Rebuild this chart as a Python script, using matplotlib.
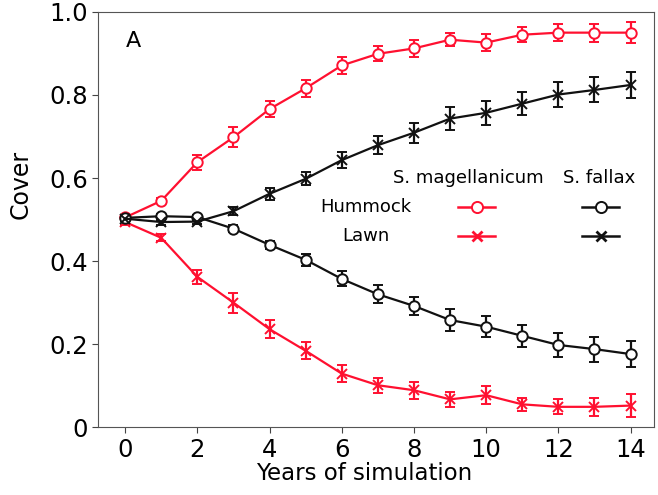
import matplotlib
matplotlib.use("Agg")
import matplotlib.pyplot as plt
import numpy as np

years = np.arange(15)

# S. magellanicum
mag_hummock = [0.505, 0.545, 0.638, 0.698, 0.766, 0.816, 0.871, 0.899, 0.912, 0.933,
               0.926, 0.945, 0.950, 0.950, 0.950]
mag_hummock_err = [0.006, 0.006, 0.018, 0.024, 0.02, 0.02, 0.02, 0.018, 0.02, 0.016,
                   0.021, 0.018, 0.02, 0.022, 0.026]
mag_lawn = [0.494, 0.456, 0.362, 0.300, 0.236, 0.184, 0.129, 0.101, 0.089, 0.067,
            0.077, 0.055, 0.049, 0.049, 0.052]
mag_lawn_err = [0.006, 0.008, 0.017, 0.024, 0.021, 0.02, 0.021, 0.018, 0.02, 0.018,
                0.022, 0.016, 0.018, 0.022, 0.027]

# S. fallax
fal_hummock = [0.504, 0.508, 0.506, 0.478, 0.439, 0.403, 0.357, 0.320, 0.292, 0.258,
               0.242, 0.220, 0.198, 0.188, 0.176]
fal_hummock_err = [0.006, 0.006, 0.006, 0.008, 0.01, 0.014, 0.018, 0.022, 0.022, 0.026,
                   0.026, 0.026, 0.029, 0.03, 0.031]
fal_lawn = [0.502, 0.494, 0.495, 0.520, 0.562, 0.598, 0.643, 0.679, 0.709, 0.743,
            0.757, 0.779, 0.801, 0.812, 0.824]
fal_lawn_err = [0.006, 0.006, 0.006, 0.01, 0.014, 0.016, 0.02, 0.022, 0.024, 0.027,
                0.029, 0.028, 0.03, 0.03, 0.031]

red = "#ff1030"
black = "#111111"

fig = plt.figure(figsize=(6.58, 4.95), dpi=100)
ax = fig.add_axes([0.149, 0.137, 0.845, 0.839])

style = dict(lw=1.6, ms=7.5, capsize=3.5, elinewidth=1.6, capthick=1.6, mew=1.4)
ax.errorbar(years, mag_hummock, yerr=mag_hummock_err, color=red, marker="o",
            mfc="white", mec=red, **style)
ax.errorbar(years, mag_lawn, yerr=mag_lawn_err, color=red, marker="x", mec=red, **style)
ax.errorbar(years, fal_hummock, yerr=fal_hummock_err, color=black, marker="o",
            mfc="white", mec=black, **style)
ax.errorbar(years, fal_lawn, yerr=fal_lawn_err, color=black, marker="x", mec=black, **style)

ax.set_xlim(-0.75, 14.65)
ax.set_ylim(0, 1.0)
ax.set_xticks(range(0, 15, 2))
ax.set_yticks([0, 0.2, 0.4, 0.6, 0.8, 1.0])
ax.set_yticklabels(["0", "0.2", "0.4", "0.6", "0.8", "1.0"])
ax.tick_params(labelsize=17.5, length=4, color="#444444")
for s in ax.spines.values():
    s.set_color("#555555")
ax.set_xlabel("Years of simulation", fontsize=16.5, labelpad=0)
ax.xaxis.set_label_coords(0.478, -0.085)
ax.set_ylabel("Cover", fontsize=17)
ax.yaxis.set_label_coords(-0.117, 0.584)

ax.text(0.05, 0.955, "A", transform=ax.transAxes, fontsize=16, va="top")

# hand-made legend table
ax.text(0.666, 0.599, "S. magellanicum", transform=ax.transAxes, fontsize=13,
        ha="center", va="center")
ax.text(0.901, 0.599, "S. fallax", transform=ax.transAxes, fontsize=13,
        ha="center", va="center")
ax.text(0.481, 0.531, "Hummock", transform=ax.transAxes, fontsize=13,
        ha="center", va="center")
ax.text(0.481, 0.460, "Lawn", transform=ax.transAxes, fontsize=13,
        ha="center", va="center")
for cx, c in [(0.681, red), (0.904, black)]:
    ax.plot([cx - 0.033, cx + 0.033], [0.531, 0.531], transform=ax.transAxes,
            color=c, lw=1.8)
    ax.plot([cx], [0.531], transform=ax.transAxes, color=c, marker="o", ms=8,
            mfc="white", mew=1.4, ls="none")
    ax.plot([cx - 0.033, cx + 0.033], [0.460, 0.460], transform=ax.transAxes,
            color=c, lw=1.8)
    ax.plot([cx], [0.460], transform=ax.transAxes, color=c, marker="x", ms=7,
            mew=2, ls="none")

fig.savefig("out.png", dpi=100)
